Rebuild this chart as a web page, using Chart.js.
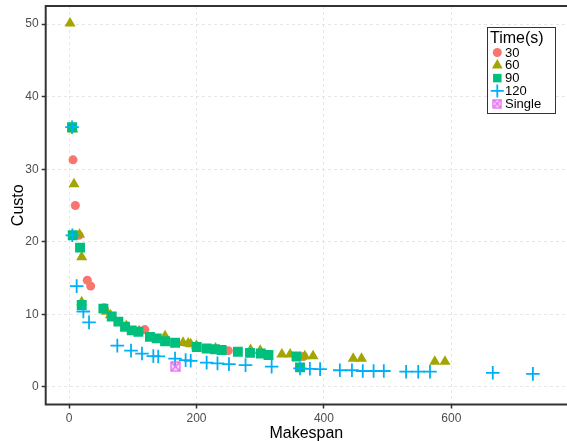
<!DOCTYPE html>
<html>
<head>
<meta charset="utf-8">
<script src="https://cdn.jsdelivr.net/npm/chart.js@4.4.1/dist/chart.umd.min.js"></script>
<style>
  html, body { margin: 0; padding: 0; background: #fff; overflow: hidden; }
  canvas { display: block; }
</style>
</head>
<body>
<canvas id="chart" width="567" height="441"></canvas>
<script>
// [makespan, custo] pairs
var pts30 = [[5.5,35.7],[6.3,31.3],[9.9,25.0],[15.7,20.9],[28.7,14.7],[34,13.9],[55,10.9],[119,7.9],[250,5.0],[368,4.2]];
var pts60 = [[1.6,50.1],[6,35.5],[7.8,27.95],[16.5,21.0],[19.9,17.9],[19.9,11.7],[59,10.4],[65,9.9],[90,8.4],[110,7.7],
             [150.7,7.0],[179,6.1],[187,6.0],[191,5.9],[200,5.7],[230,5.3],[285,5.1],[300,5.0],[334,4.5],[347,4.5],
             [370,4.25],[383,4.25],[446,3.9],[459,3.9],[574,3.5],[590,3.5]];
var pts90 = [[4.7,35.8],[5.8,20.9],[17.3,19.2],[19.9,11.3],[53.9,10.8],[67,9.7],[77.4,9.0],[87.9,8.3],[98.4,7.8],[108.8,7.6],
             [127,6.9],[137.6,6.7],[150.7,6.3],[166.4,6.1],[200.4,5.5],[216,5.3],[229,5.2],[239.6,5.1],[265,4.85],[284,4.7],
             [301,4.6],[313,4.4],[357,4.2],[362.5,2.7]];
var pts120 = [[4.7,35.8],[5.2,20.9],[12,13.9],[22.5,10.4],[31.4,8.9],[75.8,5.7],[97.3,5.0],[114.5,4.6],[132.3,4.25],[140,4.2],
              [166.4,3.9],[183,3.7],[191,3.6],[216,3.35],[233,3.25],[251,3.15],[277,3.0],[318,2.8],[362.5,2.55],[378,2.5],
              [394,2.45],[425,2.3],[444,2.3],[461,2.2],[478,2.2],[494,2.2],[529,2.1],[548,2.1],[566.5,2.1],[665,1.95],[728,1.8]];
var ptsSingle = [[167,2.8]];

var xTicks = [0, 200, 400, 600];
var yTicks = [0, 10, 20, 30, 40, 50];

var colors = {
  "30": "#F8766D",
  "60": "#A3A500",
  "90": "#00BF7D",
  "120": "#00B0F6",
  "Single": "#E76BF3"
};

function toXY(arr) {
  return arr.map(function (p) { return {x: p[0], y: p[1]}; });
}

// square with an X in it, for the "Single" point
function boxCross(size, color) {
  var c = document.createElement('canvas');
  c.width = size; c.height = size;
  var g = c.getContext('2d');
  g.strokeStyle = color;
  g.lineWidth = 1.3;
  g.fillStyle = 'rgba(231,107,243,0.25)';
  g.fillRect(1, 1, size - 2, size - 2);
  g.strokeRect(1, 1, size - 2, size - 2);
  g.beginPath();
  g.moveTo(1, 1); g.lineTo(size - 1, size - 1);
  g.moveTo(size - 1, 1); g.lineTo(1, size - 1);
  g.stroke();
  return c;
}
var singleImg = boxCross(11, colors.Single);
var singleImgLegend = boxCross(10, colors.Single);

var legendItems = [
  {label: "30", style: "circle", r: 4.5},
  {label: "60", style: "triangle", r: 6.2},
  {label: "90", style: "rect", r: 6},
  {label: "120", style: "cross", r: 6.5},
  {label: "Single", style: "img", r: 5}
];

var framePlugin = {
  id: 'frame',
  afterDatasetsDraw: function (chart) {
    var a = chart.chartArea, ctx = chart.ctx;
    ctx.save();
    ctx.strokeStyle = '#333333';
    ctx.lineWidth = 2;
    ctx.beginPath();
    ctx.moveTo(chart.width + 5, a.top);
    ctx.lineTo(a.left, a.top);
    ctx.lineTo(a.left, a.bottom);
    ctx.lineTo(chart.width + 5, a.bottom);
    ctx.stroke();
    ctx.restore();
  }
};

function drawMarker(ctx, item, x, y) {
  var col = colors[item.label];
  ctx.save();
  ctx.fillStyle = col;
  ctx.strokeStyle = col;
  if (item.style === 'circle') {
    ctx.beginPath(); ctx.arc(x, y, item.r, 0, Math.PI * 2); ctx.fill();
  } else if (item.style === 'triangle') {
    var r = item.r;
    ctx.beginPath();
    ctx.moveTo(x, y - r);
    ctx.lineTo(x + r * 0.866, y + r * 0.5);
    ctx.lineTo(x - r * 0.866, y + r * 0.5);
    ctx.closePath(); ctx.fill();
  } else if (item.style === 'rect') {
    var s = item.r * 0.707;
    ctx.fillRect(x - s, y - s, 2 * s, 2 * s);
  } else if (item.style === 'cross') {
    ctx.lineWidth = 1.8;
    ctx.beginPath();
    ctx.moveTo(x - item.r, y); ctx.lineTo(x + item.r, y);
    ctx.moveTo(x, y - item.r); ctx.lineTo(x, y + item.r);
    ctx.stroke();
  } else {
    ctx.drawImage(singleImgLegend, x - 5, y - 5);
  }
  ctx.restore();
}

var legendPlugin = {
  id: 'boxLegend',
  afterDraw: function (chart) {
    var ctx = chart.ctx;
    ctx.save();
    ctx.fillStyle = '#ffffff';
    ctx.fillRect(487.5, 27.5, 68, 86);
    ctx.strokeStyle = '#333333';
    ctx.lineWidth = 1;
    ctx.strokeRect(487.5, 27.5, 68, 86);
    ctx.fillStyle = '#000000';
    ctx.textBaseline = 'middle';
    ctx.textAlign = 'left';
    ctx.font = '16px "Liberation Sans", Arial, sans-serif';
    ctx.fillText('Time(s)', 490, 38.5);
    ctx.font = '13px "Liberation Sans", Arial, sans-serif';
    legendItems.forEach(function (it, i) {
      var y = 52.5 + i * 12.8;
      drawMarker(ctx, it, 497.3, y);
      ctx.fillStyle = '#000000';
      ctx.fillText(it.label, 505, y + 0.5);
    });
    ctx.restore();
  }
};

var tickFont = {family: '"Liberation Sans", Arial, sans-serif', size: 12};
var titleFont = {family: '"Liberation Sans", Arial, sans-serif', size: 16};

var config = {
  type: 'scatter',
  data: {
    datasets: [
      {label: "30", data: toXY(pts30), pointStyle: 'circle', pointRadius: 4.5, backgroundColor: colors["30"], borderWidth: 0, order: 5},
      {label: "60", data: toXY(pts60), pointStyle: 'triangle', pointRadius: 6.4, backgroundColor: colors["60"], borderWidth: 0, order: 4},
      {label: "90", data: toXY(pts90), pointStyle: 'rect', pointRadius: 7, backgroundColor: colors["90"], borderWidth: 0, order: 3},
      {label: "120", data: toXY(pts120), pointStyle: 'cross', pointRadius: 6.8, borderColor: colors["120"], backgroundColor: colors["120"], borderWidth: 1.8, order: 2},
      {label: "Single", data: toXY(ptsSingle), pointStyle: singleImg, pointRadius: 5.5, backgroundColor: colors.Single, borderColor: colors.Single, order: 1}
    ]
  },
  options: {
    responsive: false,
    animation: false,
    devicePixelRatio: 1,
    layout: {autoPadding: false, padding: {top: 6, right: 0, bottom: 0, left: 0}},
    plugins: {
      legend: {display: false},
      tooltip: {enabled: false}
    },
    scales: {
      x: {
        type: 'linear',
        min: -36.6,
        max: 781.5,
        afterFit: function (s) { s.height = 36.5; s.paddingLeft = 0; s.paddingRight = 0; },
        afterBuildTicks: function (s) { s.ticks = xTicks.map(function (v) { return {value: v}; }); },
        ticks: {font: tickFont, color: '#4d4d4d', padding: 3, maxRotation: 0},
        grid: {color: '#e6e6e6', lineWidth: 1, tickColor: '#333333', tickLength: 4, tickWidth: 1.5},
        border: {display: false, dash: [3, 3]},
        title: {display: true, text: 'Makespan', font: titleFont, color: '#000000', padding: {top: 0, bottom: -2}}
      },
      y: {
        type: 'linear',
        min: -2.42,
        max: 52.5,
        afterFit: function (s) { s.width = 45.7; s.paddingTop = 0; s.paddingBottom = 0; },
        afterBuildTicks: function (s) { s.ticks = yTicks.map(function (v) { return {value: v}; }); },
        ticks: {font: tickFont, color: '#4d4d4d', padding: 3},
        grid: {color: '#e6e6e6', lineWidth: 1, tickColor: '#333333', tickLength: 4, tickWidth: 1.5},
        border: {display: false, dash: [3, 3]},
        title: {display: true, text: 'Custo', font: titleFont, color: '#000000', padding: {top: 9, bottom: 0}}
      }
    }
  },
  plugins: [framePlugin, legendPlugin]
};

(function () {
  new Chart(document.getElementById('chart'), config);
})();
</script>
</body>
</html>
